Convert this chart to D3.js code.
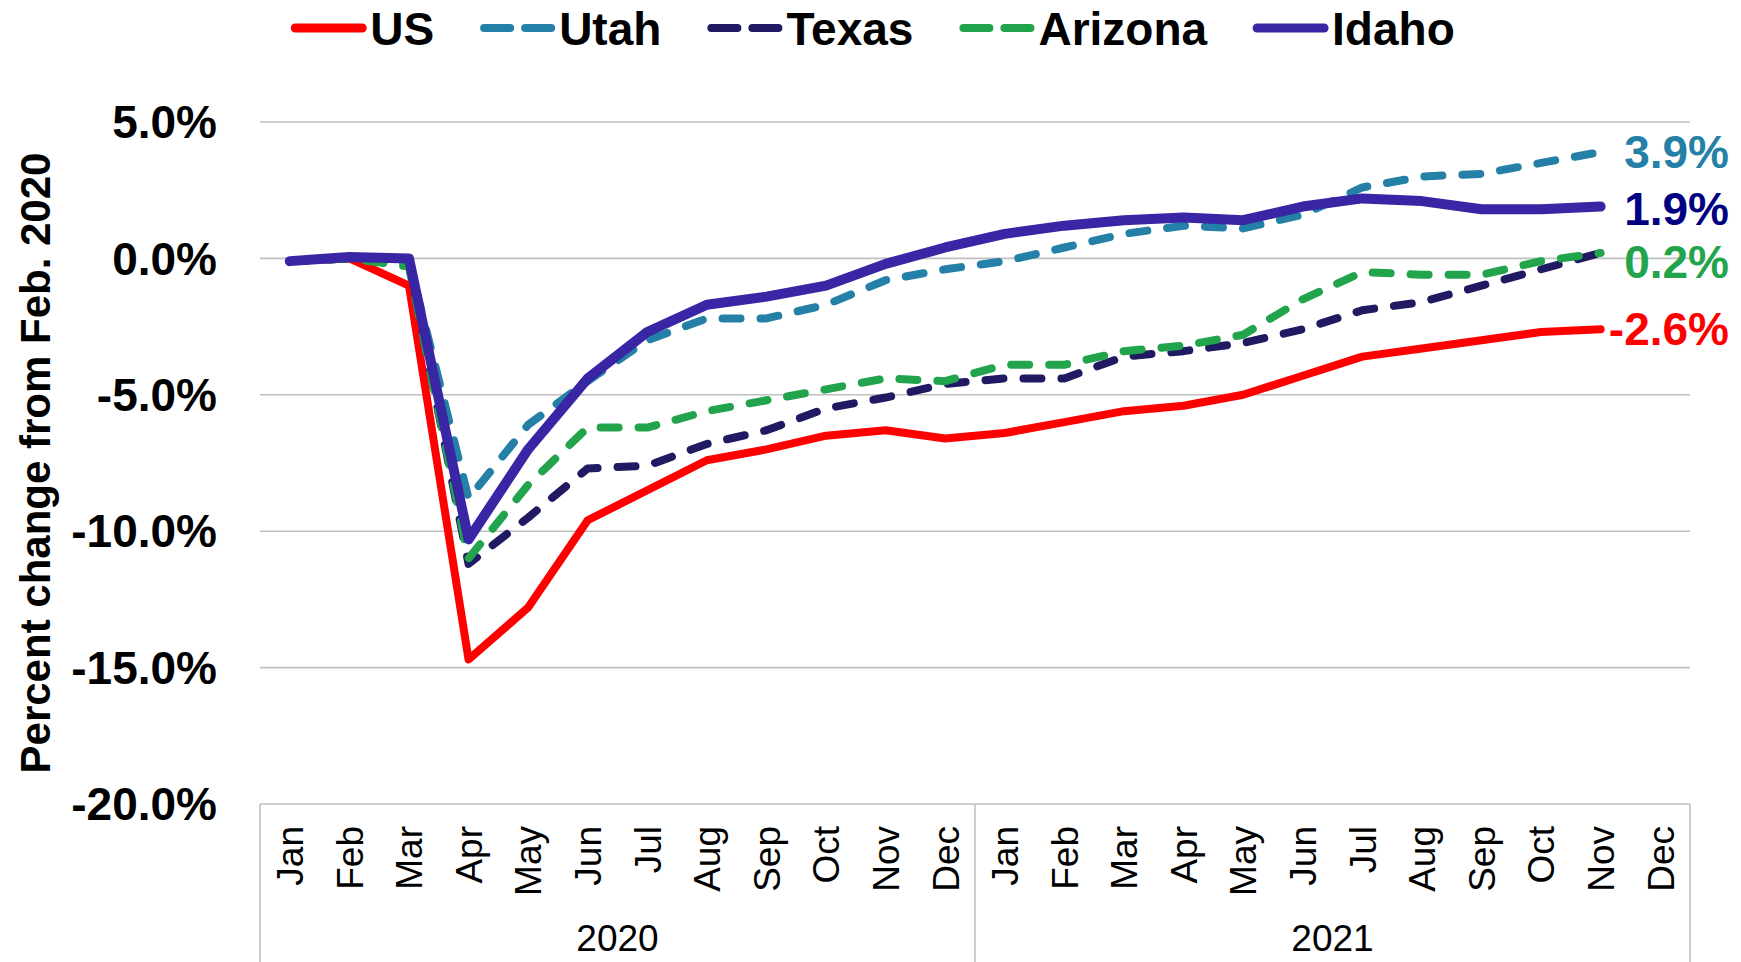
<!DOCTYPE html>
<html lang="en"><head>
<meta charset="UTF-8"><title>Percent change from Feb. 2020</title>
<style>
  body { margin:0; background:#fff; }
  svg { display:block; font-family: 'Liberation Sans', Arial, sans-serif; }
  .grid line { stroke:#c0c0c0; stroke-width:1.6; }
  .ytick text { font-size:46px; font-weight:bold; fill:#000; }
  .xtick text { font-size:37px; fill:#000; }
</style>
</head><body>
<svg id="chart" width="1741" height="962"></svg>
<script src="https://cdn.jsdelivr.net/npm/d3@7/dist/d3.min.js"></script>
<script>
// ───────────── data ─────────────
const months = ['Jan','Feb','Mar','Apr','May','Jun','Jul','Aug','Sep','Oct','Nov','Dec'];
const years = ['2020', '2021'];
const yTicks = [5, 0, -5, -10, -15, -20];

// Jan 2020 … Nov 2021 (23 points), Dec 2021 empty
const us      = [-0.1, 0.0, -1.0, -14.7, -12.8, -9.6, -8.5, -7.4, -7.0, -6.5, -6.3, -6.6, -6.4, -6.0, -5.6, -5.4, -5.0, -4.3, -3.6, -3.3, -3.0, -2.7, -2.6];
const utah    = [-0.1, 0.0, -0.1, -8.8, -6.1, -4.5, -3.0, -2.2, -2.2, -1.7, -0.8, -0.4, -0.1, 0.4, 0.9, 1.2, 1.1, 1.6, 2.6, 3.0, 3.1, 3.5, 3.9];
const texas   = [-0.1, 0.0, -0.2, -11.2, -9.5, -7.7, -7.6, -6.8, -6.3, -5.5, -5.1, -4.6, -4.4, -4.4, -3.6, -3.4, -3.1, -2.6, -1.9, -1.6, -1.0, -0.4, 0.2];
const arizona = [-0.1, 0.0, -0.3, -11.0, -8.3, -6.2, -6.2, -5.6, -5.2, -4.8, -4.4, -4.5, -3.9, -3.9, -3.4, -3.2, -2.8, -1.5, -0.5, -0.6, -0.6, -0.1, 0.2];
const idaho   = [-0.1, 0.05, 0.0, -10.3, -7.0, -4.4, -2.7, -1.7, -1.4, -1.0, -0.2, 0.4, 0.9, 1.2, 1.4, 1.5, 1.4, 1.9, 2.2, 2.1, 1.8, 1.8, 1.9];

const seriesNames = ['US', 'Utah', 'Texas', 'Arizona', 'Idaho'];
const seriesValues = [us, utah, texas, arizona, idaho];

// styles per series
const STYLE = {
  US:      { color:'#ff0000', width:8,  dash:null,    label:'#ff0000', labelDy:0 },
  Utah:    { color:'#2480a6', width:8,  dash:'18,20', label:'#2480a6', labelDy:0 },
  Texas:   { color:'#201a63', width:8,  dash:'18,20', label:null,      labelDy:0 },
  Arizona: { color:'#22a44c', width:8,  dash:'18,20', label:'#22a44c', labelDy:9 },
  Idaho:   { color:'#3926a4', width:10, dash:null,    label:'#000080', labelDy:2 },
};

// ───────────── layout ─────────────
const W = 1741, H = 962;
const M = { left:260, right:1690, top:122, bottom:804 };
const svg = d3.select('#chart');

const cats = years.flatMap(y => months.map(m => y + '-' + m));
const x = d3.scaleBand().domain(cats).range([M.left, M.right]).padding(0);
const xYear = d3.scaleBand().domain(years).range([M.left, M.right]).padding(0);
const y = d3.scaleLinear().domain([-20, 5]).range([M.bottom, M.top]);
const cx = i => x(cats[i]) + x.bandwidth() / 2;

// gridlines
svg.append('g').attr('class', 'grid').selectAll('line')
  .data(yTicks).join('line')
  .attr('x1', M.left).attr('x2', M.right)
  .attr('y1', d => y(d)).attr('y2', d => y(d));

// y axis labels
const yAxis = svg.append('g').attr('class', 'ytick')
  .attr('transform', `translate(${M.left},0)`)
  .call(d3.axisLeft(y).tickValues(yTicks).tickSize(0).tickPadding(43)
    .tickFormat(d => d.toFixed(1) + '%'));
yAxis.select('.domain').remove();
yAxis.selectAll('text').attr('dy', '0.34em');

// y axis title
svg.append('text')
  .attr('transform', `translate(50,${(M.top + M.bottom) / 2}) rotate(-90)`)
  .attr('text-anchor', 'middle')
  .style('font-size', '42px').style('font-weight', 'bold')
  .text('Percent change from Feb. 2020');

// month axis (rotated)
const xAxis = svg.append('g').attr('class', 'xtick')
  .attr('transform', `translate(0,${M.bottom})`)
  .call(d3.axisBottom(x).tickSize(0).tickFormat(d => d.split('-')[1]));
xAxis.select('.domain').remove();
xAxis.selectAll('text')
  .attr('transform', 'rotate(-90)')
  .attr('text-anchor', 'end')
  .attr('x', -22).attr('y', 0).attr('dy', '0.36em');

// year group boxes
const dividers = [M.left, ...years.map(yr => xYear(yr) + xYear.bandwidth())];
svg.append('g').attr('class', 'grid').selectAll('line')
  .data(dividers).join('line')
  .attr('x1', d => d).attr('x2', d => d)
  .attr('y1', M.bottom).attr('y2', H);
svg.append('g').selectAll('text')
  .data(years).join('text')
  .attr('x', d => xYear(d) + xYear.bandwidth() / 2)
  .attr('y', 951)
  .attr('text-anchor', 'middle')
  .style('font-size', '37px')
  .text(d => d);

// ───────────── lines ─────────────
const line = d3.line().x((d, i) => cx(i)).y(d => y(d));
seriesNames.forEach((name, k) => {
  const s = STYLE[name];
  svg.append('path')
    .datum(seriesValues[k])
    .attr('d', line)
    .attr('fill', 'none')
    .attr('stroke', s.color)
    .attr('stroke-width', s.width)
    .attr('stroke-linejoin', 'round')
    .attr('stroke-linecap', 'round')
    .attr('stroke-dasharray', s.dash);
});

// end labels
seriesNames.forEach((name, k) => {
  const s = STYLE[name];
  if (!s.label) return;
  const vals = seriesValues[k];
  const last = vals[vals.length - 1];
  svg.append('text')
    .attr('x', 1729)
    .attr('y', y(last) + s.labelDy)
    .attr('dy', '0.35em')
    .attr('text-anchor', 'end')
    .attr('fill', s.label)
    .style('font-size', '46px').style('font-weight', 'bold')
    .text(last.toFixed(1) + '%');
});

// ───────────── legend ─────────────
const legend = svg.append('g');
let lx = 0;
seriesNames.forEach((name) => {
  const s = STYLE[name];
  const g = legend.append('g').attr('transform', `translate(${lx},0)`);
  g.append('line')
    .attr('x1', 4).attr('x2', 71).attr('y1', 28).attr('y2', 28)
    .attr('stroke', s.color).attr('stroke-width', s.dash ? 8 : 9)
    .attr('stroke-linecap', 'round')
    .attr('stroke-dasharray', s.dash ? '26,15' : null);
  const t = g.append('text')
    .attr('x', 79).attr('y', 28).attr('dy', '0.36em')
    .style('font-size', '46px').style('font-weight', 'bold')
    .text(name);
  lx += 79 + t.node().getComputedTextLength() + 46;
});
const legendW = lx - 46;
legend.attr('transform', `translate(${873 - legendW / 2},0)`);
</script>
</body></html>
